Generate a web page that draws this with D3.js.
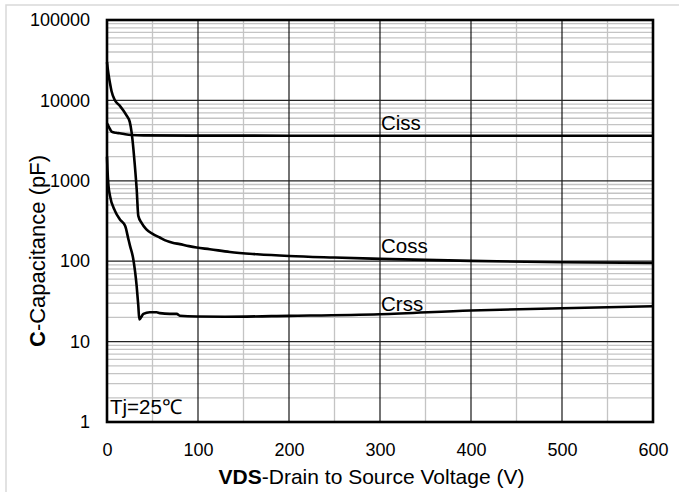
<!DOCTYPE html>
<html lang="en">
<head>
<meta charset="UTF-8">
<title>Capacitance vs VDS</title>
<script src="https://d3js.org/d3.v7.min.js"></script>
<style>
  body { margin: 0; background: #fff; }
  text { font-family: "Liberation Sans", Arial, sans-serif; fill: #000; }
</style>
</head>
<body>
<svg width="679" height="492"></svg>
<script>
// values (V in volts, C in pF)
const cissV = [0, 2, 5, 10, 14, 20, 27, 40, 100, 200, 300, 400, 500, 600];
const cissC = [5200, 4700, 4100, 3950, 3900, 3800, 3720, 3670, 3650, 3640, 3640, 3640, 3640, 3640];

const cossV = [0, 1, 2, 3.3, 5, 8.8, 14, 21.6, 25, 27, 29, 30.5, 32.6, 34.4, 38, 43, 51, 58, 65.6, 72, 80, 90, 98.5, 113, 135, 165, 200, 250, 300, 400, 500, 600];
const cossC = [30000, 24000, 20000, 16300, 13000, 10000, 8600, 6470, 5400, 4030, 2500, 1600, 790, 366, 300, 250, 216, 197, 179, 170, 163, 154, 148, 141, 130, 122, 116, 111, 107, 101, 97, 95];

const crssV = [0, 0.5, 1.5, 3.3, 8.8, 14, 20, 23.5, 25.3, 28.9, 32.6, 34.4, 35.5, 40, 47, 54.6, 58, 69, 76.6, 80, 98.5, 130, 200, 300, 400, 500, 600];
const crssC = [2000, 1400, 900, 650, 422, 333, 274, 188, 155, 106, 49, 28, 18.8, 22.1, 23.2, 23.2, 22.6, 22.1, 22.1, 21.0, 20.5, 20.4, 20.9, 21.9, 24.4, 26, 27.5];

const xTicks = [0, 100, 200, 300, 400, 500, 600];
const yTicks = [1, 10, 100, 1000, 10000, 100000];

const svg = d3.select("svg");

// light frame round the whole chart
svg.append("rect")
  .attr("x", 6).attr("y", 5).attr("width", 690).attr("height", 500)
  .attr("fill", "none").attr("stroke", "#d9d9d9").attr("stroke-width", 1.5);

const pLeft = 107, pRight = 653, pTop = 20, pBottom = 422;

const x = d3.scaleLinear().domain([0, 600]).range([pLeft, pRight]);
const y = d3.scaleLog().domain([1, 100000]).range([pBottom, pTop]);

const grid = svg.append("g");

// minor grid
const minorX = d3.range(50, 600, 100);
grid.selectAll(".mx").data(minorX).enter().append("line")
  .attr("x1", d => x(d)).attr("x2", d => x(d))
  .attr("y1", pTop).attr("y2", pBottom)
  .attr("stroke", "#c4c4c4").attr("stroke-width", 1.3);

const minorY = [];
for (let dec = 1; dec < 100000; dec *= 10) {
  for (let k = 2; k <= 9; k++) minorY.push(dec * k);
}
grid.selectAll(".my").data(minorY).enter().append("line")
  .attr("x1", pLeft).attr("x2", pRight)
  .attr("y1", d => y(d)).attr("y2", d => y(d))
  .attr("stroke", "#c4c4c4").attr("stroke-width", 1.3);

// major grid
grid.selectAll(".Mx").data(xTicks.slice(1, -1)).enter().append("line")
  .attr("x1", d => x(d)).attr("x2", d => x(d))
  .attr("y1", pTop).attr("y2", pBottom)
  .attr("stroke", "#000").attr("stroke-width", 1.1);
grid.selectAll(".My").data(yTicks.slice(1, -1)).enter().append("line")
  .attr("x1", pLeft).attr("x2", pRight)
  .attr("y1", d => y(d)).attr("y2", d => y(d))
  .attr("stroke", "#222").attr("stroke-width", 1.3);

// curves
const line = d3.line()
  .x(d => x(d[0]))
  .y(d => y(d[1]))
  .curve(d3.curveMonotoneX);

const series = [
  d3.zip(cissV, cissC),
  d3.zip(cossV, cossC),
  d3.zip(crssV, crssC)
];
svg.append("g").selectAll("path").data(series).enter().append("path")
  .attr("d", line)
  .attr("fill", "none")
  .attr("stroke", "#000")
  .attr("stroke-width", 2.6)
  .attr("stroke-linejoin", "round");

// plot border
svg.append("rect")
  .attr("x", pLeft).attr("y", pTop)
  .attr("width", pRight - pLeft).attr("height", pBottom - pTop)
  .attr("fill", "none").attr("stroke", "#000").attr("stroke-width", 2.6);

// axes
const xAxis = svg.append("g")
  .attr("transform", `translate(0,${pBottom})`)
  .call(d3.axisBottom(x).tickValues(xTicks).tickSize(0).tickPadding(21).tickFormat(d3.format("d")));
xAxis.select(".domain").remove();
xAxis.selectAll("text").attr("font-size", 18).attr("font-family", "Liberation Sans, Arial, sans-serif");

const yAxis = svg.append("g")
  .attr("transform", `translate(${pLeft},0)`)
  .call(d3.axisLeft(y).tickValues(yTicks).tickSize(0).tickPadding(17).tickFormat(d3.format("d")));
yAxis.select(".domain").remove();
yAxis.selectAll("text").attr("font-size", 18).attr("font-family", "Liberation Sans, Arial, sans-serif");

// axis titles
const xt = svg.append("text")
  .attr("x", 371.5).attr("y", 484)
  .attr("text-anchor", "middle").attr("font-size", 21);
xt.append("tspan").attr("font-weight", "bold").text("VDS");
xt.append("tspan").text("-Drain to Source Voltage (V)");

const yt = svg.append("text")
  .attr("transform", "translate(45,251) rotate(-90)")
  .attr("text-anchor", "middle").attr("font-size", 22);
yt.append("tspan").attr("font-weight", "bold").text("C");
yt.append("tspan").text("-Capacitance (pF)");

// curve labels
const labels = [
  { t: "Ciss", v: 300, yy: 130 },
  { t: "Coss", v: 300, yy: 253 },
  { t: "Crss", v: 300, yy: 311 }
];
svg.selectAll(".lab").data(labels).enter().append("text")
  .attr("x", d => x(d.v) + 1).attr("y", d => d.yy)
  .attr("font-size", 20.5).text(d => d.t);

svg.append("text").attr("x", 110).attr("y", 414)
  .attr("font-size", 20.5).text("Tj=25℃");
</script>
</body>
</html>
